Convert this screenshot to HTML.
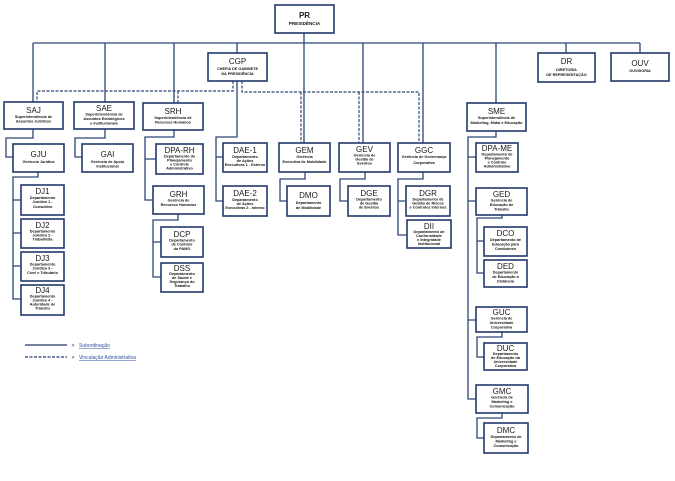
<!DOCTYPE html>
<html><head><meta charset="utf-8"><style>
html,body{margin:0;padding:0;background:#fff;width:675px;height:481px;overflow:hidden}
svg{display:block}
.b{fill:#fff;stroke:#23396b;stroke-width:1.6}
.l{fill:none;stroke:#2c4677;stroke-width:1.3}
.d{fill:none;stroke:#2c4677;stroke-width:1.2;stroke-dasharray:3,1.5}
text{font-family:"Liberation Sans",sans-serif;text-anchor:middle;fill:#111;font-weight:bold}
.c{font-size:8px;font-weight:normal;fill:#1a1a1a}
.s{font-size:3.8px}
.s5{font-size:4.6px}
.lg{font-size:5px;fill:#2d4f9e;text-decoration:underline;text-anchor:start;font-weight:normal}
</style></head><body>
<svg width="675" height="481" viewBox="0 0 675 481" xmlns="http://www.w3.org/2000/svg">
<!-- solid lines -->
<path class="l" d="M33,43H640 M304,33V143 M33,43V102 M105,43V102 M174,43V103 M237,43V53 M363,43V143 M423,43V143 M496,43V103 M566,43V53 M640,43V53"/>
<path class="l" d="M237,81V137H216V201H223 M216,157H223"/>
<path class="l" d="M33,129V138H6V157H13"/>
<path class="l" d="M105,129V138H75V157H82"/>
<path class="l" d="M174,130V137H145V200H153 M145,159H156"/>
<path class="l" d="M178,214V220H153V277H161 M153,242H161"/>
<path class="l" d="M38,172V177H13V299H21 M13,200H21 M13,233H21 M13,266H21"/>
<path class="l" d="M305,172V179H280V201H287"/>
<path class="l" d="M365,172V179H340V201H348"/>
<path class="l" d="M423,172V179H398V235H407 M398,201H405"/>
<path class="l" d="M496,131V137H468V399H476 M468,157H476 M468,201H476 M468,320H476"/>
<path class="l" d="M502,215V218H477V273H484 M477,241H484"/>
<path class="l" d="M502,332V337H477V357H484"/>
<path class="l" d="M502,413V418H477V438H484"/>
<!-- dashed -->
<path class="d" d="M233,81V91H37V102 M242,81V92H419V143 M178,91V103 M301,92V143 M359,92V143"/>
<!-- boxes -->
<rect class="b" x="275" y="5" width="59" height="28"/><text class="c" x="304.5" y="18" style="font-weight:bold">PR</text><text class="s5" x="304.5" y="25">PRESIDÊNCIA</text>
<rect class="b" x="208" y="53" width="59" height="28"/><text class="c" x="237.5" y="64">CGP</text><text class="s" x="237.5" y="70">CHEFIA DE GABINETE</text><text class="s" x="237.5" y="75">DA PRESIDÊNCIA</text>
<rect class="b" x="538" y="53" width="57" height="29"/><text class="c" x="566.5" y="64">DR</text><text class="s" x="566.5" y="71">DIRETORIA</text><text class="s" x="566.5" y="76">DE REPRESENTAÇÃO</text>
<rect class="b" x="611" y="53" width="58" height="28"/><text class="c" x="640" y="66">OUV</text><text class="s" x="640" y="72">OUVIDORIA</text>
<rect class="b" x="4" y="102" width="59" height="27"/><text class="c" x="33.5" y="113">SAJ</text><text class="s" x="33.5" y="118">Superintendência de</text><text class="s" x="33.5" y="122.5">Assuntos Jurídicos</text>
<rect class="b" x="74" y="102" width="60" height="27"/><text class="c" x="104" y="111">SAE</text><text class="s" x="104" y="115.5">Superintendência de</text><text class="s" x="104" y="120">Assuntos Estratégicos</text><text class="s" x="104" y="124.5">e Institucionais</text>
<rect class="b" x="143" y="103" width="60" height="27"/><text class="c" x="173" y="114">SRH</text><text class="s" x="173" y="119">Superintendência de</text><text class="s" x="173" y="123.5">Recursos Humanos</text>
<rect class="b" x="13" y="144" width="51" height="28"/><text class="c" x="38.5" y="157">GJU</text><text class="s" x="38.5" y="163">Gerência Jurídica</text>
<rect class="b" x="82" y="144" width="51" height="28"/><text class="c" x="107.5" y="157">GAI</text><text class="s" x="107.5" y="163">Gerência de Apoio</text><text class="s" x="107.5" y="167.5">Institucional</text>
<rect class="b" x="156" y="144" width="47" height="30"/><text class="c" x="179.5" y="153">DPA-RH</text><text class="s" x="179.5" y="157.5">Departamento de</text><text class="s" x="179.5" y="161.5">Planejamento</text><text class="s" x="179.5" y="165.5">e Controle</text><text class="s" x="179.5" y="169.5">Administrativo</text>
<rect class="b" x="223" y="143" width="44" height="29"/><text class="c" x="245" y="153">DAE-1</text><text class="s" x="245" y="158">Departamento</text><text class="s" x="245" y="162">de Ações</text><text class="s" x="245" y="166">Executivas 1 - Externo</text>
<rect class="b" x="223" y="186" width="44" height="30"/><text class="c" x="245" y="196">DAE-2</text><text class="s" x="245" y="201">Departamento</text><text class="s" x="245" y="205">de Ações</text><text class="s" x="245" y="209">Executivas 2 - Interno</text>
<rect class="b" x="279" y="143" width="51" height="29"/><text class="c" x="304.5" y="153">GEM</text><text class="s" x="304.5" y="158">Gerência</text><text class="s" x="304.5" y="163">Executiva de Mobilidade</text>
<rect class="b" x="339" y="143" width="51" height="29"/><text class="c" x="364.5" y="152">GEV</text><text class="s" x="364.5" y="156.5">Gerência de</text><text class="s" x="364.5" y="160.5">Gestão de</text><text class="s" x="364.5" y="164.5">Eventos</text>
<rect class="b" x="398" y="143" width="52" height="29"/><text class="c" x="424" y="153">GGC</text><text class="s" x="424" y="158">Gerência de Governança</text><text class="s" x="424" y="164">Corporativa</text>
<rect class="b" x="467" y="103" width="59" height="28"/><text class="c" x="496.5" y="114">SME</text><text class="s" x="496.5" y="119">Superintendência de</text><text class="s" x="496.5" y="124">Marketing, Mídia e Educação</text>
<rect class="b" x="476" y="143" width="42" height="29"/><text class="c" x="497" y="151">DPA-ME</text><text class="s" x="497" y="155.5">Departamento de</text><text class="s" x="497" y="159.5">Planejamento</text><text class="s" x="497" y="163.5">e Controle</text><text class="s" x="497" y="167.5">Administrativo</text>
<rect class="b" x="153" y="186" width="51" height="28"/><text class="c" x="178.5" y="197">GRH</text><text class="s" x="178.5" y="201.5">Gerência de</text><text class="s" x="178.5" y="206">Recursos Humanos</text>
<rect class="b" x="161" y="227" width="42" height="30"/><text class="c" x="182" y="237">DCP</text><text class="s" x="182" y="241.5">Departamento</text><text class="s" x="182" y="245.5">de Controle</text><text class="s" x="182" y="250">do PAMO</text>
<rect class="b" x="161" y="263" width="42" height="29"/><text class="c" x="182" y="271">DSS</text><text class="s" x="182" y="275">Departamento</text><text class="s" x="182" y="279">de Saúde e</text><text class="s" x="182" y="283">Segurança do</text><text class="s" x="182" y="287">Trabalho</text>
<rect class="b" x="21" y="185" width="43" height="30"/><text class="c" x="42.5" y="194">DJ1</text><text class="s" x="42.5" y="199">Departamento</text><text class="s" x="42.5" y="203">Jurídico 1 -</text><text class="s" x="42.5" y="208">Consultivo</text>
<rect class="b" x="21" y="219" width="43" height="29"/><text class="c" x="42.5" y="228">DJ2</text><text class="s" x="42.5" y="232.5">Departamento</text><text class="s" x="42.5" y="236.5">Jurídico 2 -</text><text class="s" x="42.5" y="240.5">Trabalhista</text>
<rect class="b" x="21" y="252" width="43" height="29"/><text class="c" x="42.5" y="261">DJ3</text><text class="s" x="42.5" y="265.5">Departamento</text><text class="s" x="42.5" y="269.5">Jurídico 3 -</text><text class="s" x="42.5" y="274">Cível e Tributário</text>
<rect class="b" x="21" y="285" width="43" height="30"/><text class="c" x="42.5" y="293">DJ4</text><text class="s" x="42.5" y="297.5">Departamento</text><text class="s" x="42.5" y="301.5">Jurídico 4 -</text><text class="s" x="42.5" y="305.5">Autoridade de</text><text class="s" x="42.5" y="309.5">Trânsito</text>
<rect class="b" x="287" y="186" width="43" height="30"/><text class="c" x="308.5" y="198">DMO</text><text class="s" x="308.5" y="204">Departamento</text><text class="s" x="308.5" y="209">de Mobilidade</text>
<rect class="b" x="348" y="186" width="42" height="30"/><text class="c" x="369" y="196">DGE</text><text class="s" x="369" y="200.5">Departamento</text><text class="s" x="369" y="204.5">de Gestão</text><text class="s" x="369" y="208.5">de Eventos</text>
<rect class="b" x="406" y="186" width="44" height="30"/><text class="c" x="428" y="196">DGR</text><text class="s" x="428" y="200.5">Departamento de</text><text class="s" x="428" y="204.5">Gestão de Riscos</text><text class="s" x="428" y="208.5">e Controles Internos</text>
<rect class="b" x="407" y="220" width="44" height="28"/><text class="c" x="429" y="229">DII</text><text class="s" x="429" y="233">Departamento de</text><text class="s" x="429" y="237">Conformidade</text><text class="s" x="429" y="241">e Integridade</text><text class="s" x="429" y="245">Institucional</text>
<rect class="b" x="476" y="188" width="51" height="27"/><text class="c" x="501.5" y="197">GED</text><text class="s" x="501.5" y="201.5">Gerência de</text><text class="s" x="501.5" y="206">Educação de</text><text class="s" x="501.5" y="210.5">Trânsito</text>
<rect class="b" x="484" y="227" width="43" height="29"/><text class="c" x="505.5" y="236">DCO</text><text class="s" x="505.5" y="241">Departamento de</text><text class="s" x="505.5" y="245.5">Educação para</text><text class="s" x="505.5" y="250">Condutores</text>
<rect class="b" x="484" y="260" width="43" height="27"/><text class="c" x="505.5" y="269">DED</text><text class="s" x="505.5" y="273.5">Departamento</text><text class="s" x="505.5" y="278">de Educação à</text><text class="s" x="505.5" y="282.5">Distância</text>
<rect class="b" x="476" y="307" width="51" height="25"/><text class="c" x="501.5" y="315">GUC</text><text class="s" x="501.5" y="319.5">Gerência de</text><text class="s" x="501.5" y="324">Universidade</text><text class="s" x="501.5" y="328.5">Corporativa</text>
<rect class="b" x="484" y="343" width="43" height="27"/><text class="c" x="505.5" y="351">DUC</text><text class="s" x="505.5" y="355">Departamento</text><text class="s" x="505.5" y="359">de Educação da</text><text class="s" x="505.5" y="363">Universidade</text><text class="s" x="505.5" y="367">Corporativa</text>
<rect class="b" x="476" y="385" width="52" height="28"/><text class="c" x="502" y="394">GMC</text><text class="s" x="502" y="398.5">Gerência de</text><text class="s" x="502" y="403">Marketing e</text><text class="s" x="502" y="407.5">Comunicação</text>
<rect class="b" x="484" y="423" width="44" height="30"/><text class="c" x="506" y="433">DMC</text><text class="s" x="506" y="438">Departamento de</text><text class="s" x="506" y="442.5">Marketing e</text><text class="s" x="506" y="447">Comunicação</text>
<!-- legend -->
<line x1="25" y1="345" x2="67" y2="345" stroke="#23396b" stroke-width="1.3"/>
<line x1="25" y1="357" x2="67" y2="357" stroke="#23396b" stroke-width="1.3" stroke-dasharray="3,1.5"/>
<text x="73" y="347" style="font-size:5px;font-weight:normal">&gt;</text>
<text x="73" y="359" style="font-size:5px;font-weight:normal">&gt;</text>
<text class="lg" x="79" y="347">Subordinação</text>
<text class="lg" x="79" y="359">Vinculação Administrativa</text>
</svg>
</body></html>
